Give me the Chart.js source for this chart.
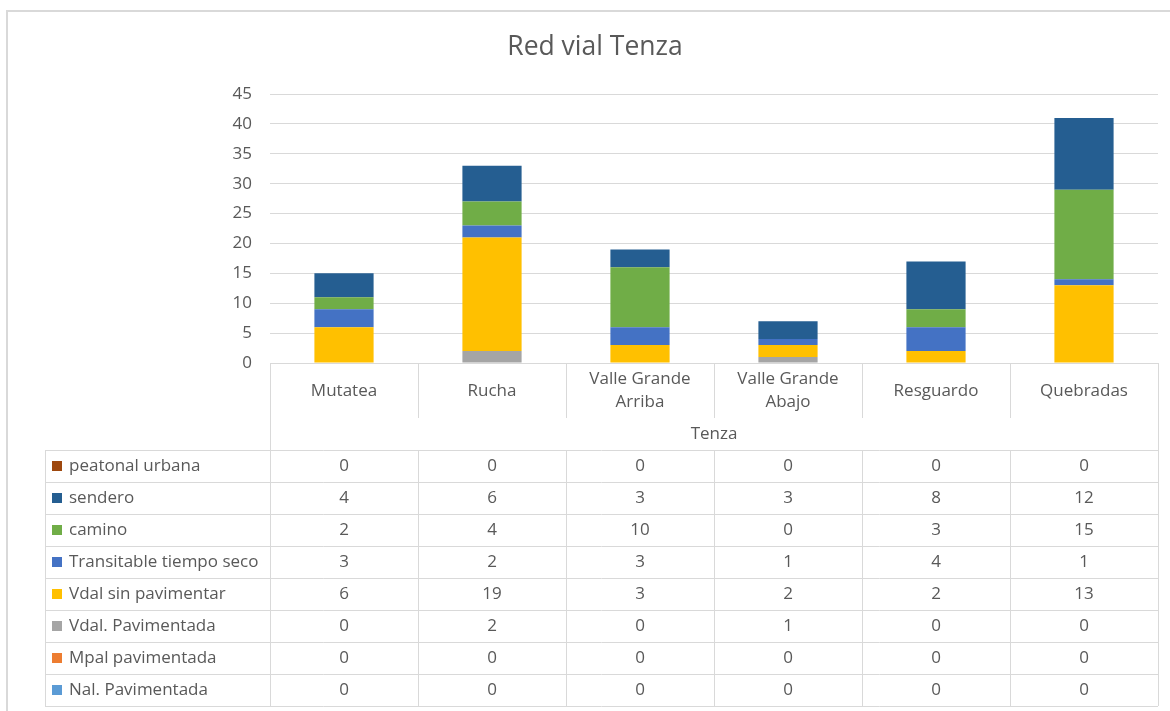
<!DOCTYPE html>
<html>
<head>
<meta charset="utf-8">
<script src="https://cdn.jsdelivr.net/npm/chart.js@4.4.1/dist/chart.umd.min.js"></script>
<style>
  html, body { margin: 0; padding: 0; background: #fff; }
  canvas { display: block; }
</style>
</head>
<body>
<canvas id="grafico" width="1170" height="711"></canvas>
<script>
// datos
const categorias = ['Mutatea', 'Rucha', ['Valle Grande', 'Arriba'], ['Valle Grande', 'Abajo'], 'Resguardo', 'Quebradas']
const grupo = 'Tenza'
const nalPavimentada = [0, 0, 0, 0, 0, 0]
const mpalPavimentada = [0, 0, 0, 0, 0, 0]
const vdalPavimentada = [0, 2, 0, 1, 0, 0]
const vdalSinPavimentar = [6, 19, 3, 2, 2, 13]
const transitable = [3, 2, 3, 1, 4, 1]
const camino = [2, 4, 10, 0, 3, 15]
const sendero = [4, 6, 3, 3, 8, 12]
const peatonalUrbana = [0, 0, 0, 0, 0, 0]
const ticksY = [0, 5, 10, 15, 20, 25, 30, 35, 40, 45]

const gris = '#595959'
const linea = '#d9d9d9'
const fuente = '"Open Sans", Lato, sans-serif'

const series = [
  { label: 'Nal. Pavimentada', data: nalPavimentada, color: '#5B9BD5' },
  { label: 'Mpal pavimentada', data: mpalPavimentada, color: '#ED7D31' },
  { label: 'Vdal. Pavimentada', data: vdalPavimentada, color: '#A5A5A5' },
  { label: 'Vdal sin pavimentar', data: vdalSinPavimentar, color: '#FFC000' },
  { label: 'Transitable tiempo seco', data: transitable, color: '#4472C4' },
  { label: 'camino', data: camino, color: '#70AD47' },
  { label: 'sendero', data: sendero, color: '#255E91' },
  { label: 'peatonal urbana', data: peatonalUrbana, color: '#9E480E' }
]

// tabla de datos debajo del eje, estilo Excel
const tablaDatos = {
  id: 'tablaDatos',
  afterDraw(chart) {
    const c = chart.ctx
    const x = chart.scales.x
    const area = chart.chartArea
    const n = categorias.length
    const ancho = x.width / n
    const izq = area.left
    const der = area.right
    const top = area.bottom
    const filaCat = top + 55
    const filaGrupo = filaCat + 32
    const alto = 32
    const tablaIzq = 45
    const filas = series.slice().reverse()
    const fondo = filaGrupo + alto * filas.length

    c.save()
    // marco exterior
    c.strokeStyle = linea
    c.lineWidth = 2
    c.beginPath()
    c.moveTo(7, 711); c.lineTo(7, 11); c.lineTo(1170, 11)
    c.stroke()

    // titulo
    c.fillStyle = gris
    c.textAlign = 'center'
    c.textBaseline = 'middle'
    c.font = '26.5px ' + fuente
    c.fillText('Red vial Tenza', 595, 47)

    c.lineWidth = 1
    c.strokeStyle = linea
    const h = (x1, x2, y) => { c.beginPath(); c.moveTo(x1, Math.round(y) + 0.5); c.lineTo(x2, Math.round(y) + 0.5); c.stroke() }
    const v = (xx, y1, y2) => { c.beginPath(); c.moveTo(Math.round(xx) + 0.5, y1); c.lineTo(Math.round(xx) + 0.5, y2); c.stroke() }

    h(izq, der, top)
    h(tablaIzq, der, filaGrupo)
    filas.forEach((s, i) => h(tablaIzq, der, filaGrupo + alto * (i + 1)))
    v(izq, top, fondo)
    v(der, top, fondo)
    v(tablaIzq, filaGrupo, fondo)
    for (let i = 1; i < n; i++) {
      const xx = izq + ancho * i
      v(xx, top, filaCat)
      v(xx, filaGrupo, fondo)
    }

    // etiquetas de categorias
    c.fillStyle = gris
    c.font = '17px ' + fuente
    categorias.forEach((cat, i) => {
      const cx = x.getPixelForValue(i)
      const lineas = Array.isArray(cat) ? cat : [cat]
      const cy = top + 28
      lineas.forEach((t, j) => {
        c.fillText(t, cx, cy + (j - (lineas.length - 1) / 2) * 23)
      })
    })
    c.fillText(grupo, (izq + der) / 2, filaCat + 16)

    // filas de valores
    filas.forEach((s, i) => {
      const cy = filaGrupo + alto * i + alto / 2
      c.fillStyle = s.color
      c.fillRect(52, cy - 5, 10, 10)
      c.fillStyle = gris
      c.textAlign = 'left'
      c.fillText(s.label, 69, cy)
      c.textAlign = 'center'
      s.data.forEach((val, k) => {
        c.fillText(String(val), x.getPixelForValue(k), cy)
      })
    })
    c.restore()
  }
}

const grafico = new Chart(document.getElementById('grafico'), {
  type: 'bar',
  data: {
    labels: categorias,
    datasets: series.map(s => ({
      label: s.label,
      data: s.data,
      backgroundColor: s.color,
      borderWidth: 0,
      categoryPercentage: 1,
      barPercentage: 0.4
    }))
  },
  options: {
    responsive: false,
    animation: false,
    layout: { padding: { top: 94, right: 12, bottom: 348, left: 0 } },
    plugins: {
      legend: { display: false },
      title: { display: false },
      tooltip: { enabled: false }
    },
    scales: {
      x: { stacked: true, display: false },
      y: {
        stacked: true,
        min: 0,
        max: 45,
        afterFit: scale => { scale.width = 270 },
        afterBuildTicks: scale => { scale.ticks = ticksY.map(t => ({ value: t })) },
        border: { display: false },
        grid: { color: linea, drawTicks: false },
        ticks: { color: gris, padding: 18, font: { family: fuente, size: 17 } }
      }
    }
  },
  plugins: [tablaDatos]
})
</script>
</body>
</html>
